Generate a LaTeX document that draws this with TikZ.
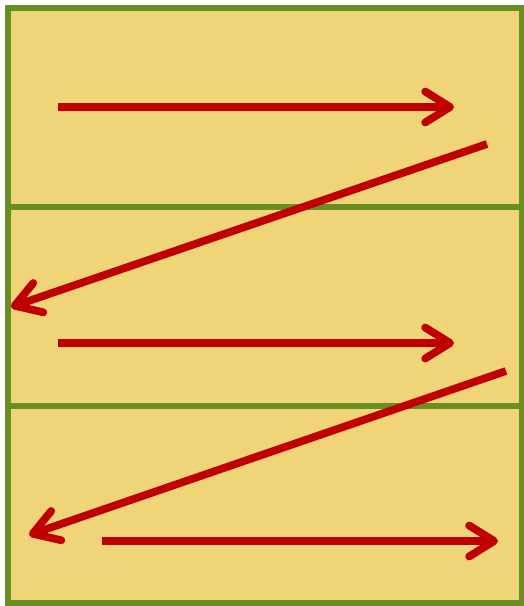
\documentclass[tikz,border=0pt]{standalone}
\usetikzlibrary{arrows.meta}
\definecolor{boxfill}{RGB}{240,212,120}
\definecolor{boxline}{RGB}{107,142,35}
\definecolor{zigred}{RGB}{192,0,0}
\tikzset{
	zig/.style = {draw=zigred, line width=4.4pt, line cap=butt,
		-{Straight Barb[length=0.5cm, width=0.62cm, line cap=round, line join=round]}},
	band/.style = {draw=boxline, line width=3.2pt}
}
\begin{document}
\begin{tikzpicture}[x=0.02cm, y=-0.02cm]
		\useasboundingbox (0,0) rectangle (524,606);
		\draw [fill=boxfill, draw=boxline, line width=3.4pt] (8,8) rectangle (522,603);
		\draw [band] (8,207) -- (522,207);
		\draw [band] (8,406) -- (522,406);
		\coordinate (r1s) at (58,107);
		\coordinate (r1e) at (454,107);
		\coordinate (d1s) at (487,144);
		\coordinate (d1e) at (11,307);
		\coordinate (r2s) at (58,343);
		\coordinate (r2e) at (454,343);
		\coordinate (d2s) at (506,371);
		\coordinate (d2e) at (29,535);
		\coordinate (r3s) at (102,541);
		\coordinate (r3e) at (498,541);
		\draw [zig] (r1s) -- (r1e);
		\draw [zig] (d1s) -- (d1e);
		\draw [zig] (r2s) -- (r2e);
		\draw [zig] (d2s) -- (d2e);
		\draw [zig] (r3s) -- (r3e);
	\end{tikzpicture}
\end{document}
